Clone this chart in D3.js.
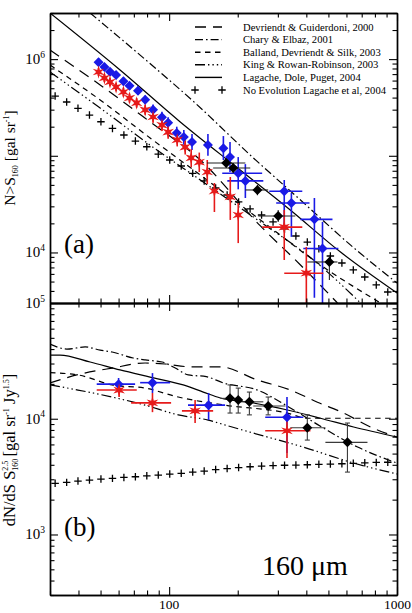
<!DOCTYPE html>
<html>
<head>
<meta charset="utf-8"/>
<title>Number counts at 160 micron</title>
<script src="https://d3js.org/d3.v7.min.js"></script>
<style>
body {margin: 0; background: #fff}
text {font-family: "Liberation Serif", "DejaVu Serif", serif; fill: #000}
</style>
</head>
<body>
<svg id="chart" width="412" height="613"></svg>
<script>

// ---- data (flux in mJy) ----
// no evolution model, same flux grid in both panels
var noEvoFlux = [31.6, 35.5, 39.8, 44.7, 50.2, 56.4, 63.3, 71.1, 79.8, 89.6, 100.6, 113, 126.9, 142.5, 160,
                 179.7, 201.8, 226.6, 254.5, 285.8, 321, 360, 404, 454, 510, 573, 643, 722, 811, 911];
var noEvoCum = [4.15e5, 3.60e5, 3.10e5, 2.64e5, 2.25e5, 1.92e5, 1.64e5, 1.42e5, 1.24e5, 1.04e5, 9.05e4, 7.84e4,
                6.59e4, 5.49e4, 4.64e4, 3.93e4, 3.33e4, 2.82e4, 2.44e4, 2.07e4, 1.75e4, 1.48e4, 1.28e4, 1.09e4,
                9.19e3, 7.78e3, 6.59e3, 5.57e3, 4.61e3, 3.9e3];
var noEvoDiff = [2765, 2820, 2893, 2952, 3011, 3053, 3114, 3152, 3215, 3260, 3327, 3374, 3462, 3532, 3639,
                 3712, 3786, 3847, 3901, 3940, 3963, 3980, 4004, 4036, 4060, 4085, 4117, 4159, 4191, 4207];

// model curves: [flux, value]
var devriendtCum = [[30, 1.24e6], [49.8, 5.4e5], [82.5, 2.24e5], [137, 9.05e4], [251.5, 1.88e4], [377, 7.42e3], [548, 3.0e3]];
var charyCum = [[45, 3.0e6], [74.6, 1.10e6], [130, 3.52e5], [232, 9.7e4], [377, 3.49e4], [626, 1.19e4], [1000, 4.83e3]];
var ballandCum = [[30, 8.69e5], [49.8, 3.78e5], [82.5, 1.53e5], [137, 6.33e4], [251.5, 2.17e4], [461, 7.42e3], [847, 3.0e3]];
var kingCum = [[30, 7.36e5], [49.8, 3.12e5], [82.5, 1.29e5], [137, 5.62e4], [251.5, 2.07e4], [430, 8.36e3], [692, 3.0e3]];
var lagacheCum = [[30, 3.0e6], [60.9, 7.72e5], [111.9, 2.24e5], [205, 7.13e4], [340, 2.75e4], [565, 1.01e4], [1000, 3.81e3]];

var devriendtDiff = [[30, 2.04e4], [40.7, 2.43e4], [56.2, 2.74e4], [78.5, 3.03e4], [96, 2.97e4], [123.8, 2.81e4],
                     [167.8, 2.81e4], [244, 2.16e4], [340.5, 1.77e4], [447.6, 1.39e4], [582.7, 1.12e4], [765.7, 8.48e3], [1000, 6.95e3]];
var charyDiff = [[30, 4.42e4], [35.6, 4.0e4], [42.8, 4.17e4], [49.8, 3.92e4], [56.2, 3.77e4], [69.5, 3.35e4], [78.5, 3.22e4],
                 [93.2, 3.09e4], [106.4, 2.74e4], [121.3, 2.39e4], [145.6, 2.31e4], [172.8, 2.04e4], [244, 1.77e4],
                 [340.5, 1.24e4], [475.5, 8.31e3], [671.6, 5.69e3], [1000, 4.14e3]];
var ballandDiff = [[30, 2.50e4], [39.8, 2.39e4], [56.2, 1.96e4], [78.5, 1.84e4], [109.6, 1.54e4], [176.4, 1.31e4],
                   [330.4, 1.12e4], [404, 1.01e4], [1000, 1.01e4]];
var kingDiff = [[30, 1.96e4], [39.8, 1.77e4], [56.2, 1.54e4], [78.5, 1.31e4], [109.6, 1.08e4], [148.4, 9.74e3],
                [176.4, 8.82e3], [234, 7.52e3], [388, 5.69e3], [645, 4.14e3], [1000, 3.33e3]];
var lagacheDiff = [[30, 3.55e4], [33.2, 3.55e4], [45, 3.09e4], [60.9, 2.64e4], [82.5, 2.29e4], [115.3, 1.96e4],
                   [141.2, 1.70e4], [167.8, 1.51e4], [234, 1.37e4], [330.4, 1.19e4], [461.4, 1.01e4], [645, 8.48e3], [1000, 6.95e3]];

// measurements: [flux, value, low, high, fluxLow, fluxHigh]
var blueCum = [[49, 9.3e5, 8.5e5, 1.02e6], [52, 8.3e5, 7.6e5, 9.1e5], [55, 7.4e5, 6.7e5, 8.1e5], [58.5, 6.85e5, 6.2e5, 7.5e5],
  [63, 5.9e5, 5.35e5, 6.5e5], [67, 5.3e5, 4.8e5, 5.8e5], [73, 4.7e5, 4.25e5, 5.2e5], [78.5, 3.8e5, 3.4e5, 4.2e5],
  [85, 3.0e5, 2.65e5, 3.4e5], [93, 2.5e5, 2.2e5, 2.85e5], [99, 2.2e5, 1.9e5, 2.5e5], [108, 1.72e5, 1.45e5, 2.0e5],
  [116, 1.56e5, 1.3e5, 1.85e5], [126, 1.39e5, 1.15e5, 1.68e5], [148, 1.29e5, 1.0e5, 1.68e5], [173, 1.2e5, 9.05e4, 1.6e5],
  [185, 9.7e4, 6.8e4, 1.39e5], [201, 6.6e4, 4.5e4, 9.7e4, 171, 256], [216, 5.5e4, 3.66e4, 8.2e4, 180, 259],
  [320, 4.3e4, 1.71e4, 5.62e4, 275, 384], [344, 3.25e4, 1.45e4, 4.12e4, 295, 413],
  [434, 2.2e4, 3.4e3, 3.66e4, 377, 521], [471, 1.1e4, 2.0e3, 2.07e4, 388, 553]];
var redCum = [[49, 7.36e5, 6.7e5, 8.1e5], [52, 6.38e5, 5.8e5, 7.0e5], [55, 5.8e5, 5.25e5, 6.4e5], [58.5, 5.15e5, 4.65e5, 5.7e5],
  [63, 4.57e5, 4.1e5, 5.05e5], [67, 3.96e5, 3.55e5, 4.4e5], [72, 3.52e5, 3.15e5, 3.95e5], [78.5, 2.98e5, 2.65e5, 3.35e5],
  [85, 2.52e5, 2.2e5, 2.85e5], [93, 2.08e5, 1.8e5, 2.4e5], [99, 1.76e5, 1.5e5, 2.05e5], [108.5, 1.46e5, 1.25e5, 1.72e5],
  [117.6, 1.23e5, 1.03e5, 1.45e5], [125, 9.5e4, 7.6e4, 1.17e5], [135.6, 8.6e4, 6.8e4, 1.08e5], [147, 6.8e4, 5.1e4, 9.05e4],
  [158, 4.32e4, 2.62e4, 5.23e4], [185.5, 3.75e4, 2.17e4, 6.03e4], [201, 2.44e4, 1.25e4, 3.25e4],
  [320, 1.83e4, 8.36e3, 2.75e4, 256, 384], [400, 6.1e3, 2.0e3, 1.14e4, 320, 475]];
var blackCum = [[178, 8.42e4, 7.5e4, 9.4e4, 146.6, 216], [191, 7.47e4, 6.6e4, 8.4e4, 156, 227],
  [244, 4.43e4, 3.9e4, 5.0e4, 216, 272], [301, 2.38e4, 2.07e4, 2.75e4, 246, 358], [505, 7.97e3, 5.19e3, 9.4e3, 404, 548]];

var blueDiff = [[60, 1.99e4, 1.77e4, 2.25e4, 48.1, 70.9], [84.5, 2.05e4, 1.67e4, 2.48e4, 74.6, 101],
  [149, 1.31e4, 9.74e3, 1.67e4, 121, 176], [329, 1.03e4, 5.05e3, 1.54e4, 264, 388]];
var redDiff = [[60.3, 1.77e4, 1.54e4, 1.96e4, 48.1, 72.1], [84.5, 1.37e4, 1.14e4, 1.67e4, 68.1, 102],
  [130, 1.17e4, 9.18e3, 1.45e4, 113.8, 156], [329, 7.87e3, 4.57e3, 1.12e4, 264, 417]];
var blackDiff = [[185, 1.50e4, 1.12e4, 1.96e4, 168, 205], [201, 1.45e4, 1.12e4, 1.84e4], [225, 1.40e4, 1.08e4, 1.70e4, 205, 259],
  [272, 1.29e4, 1.08e4, 1.54e4, 234, 324], [404, 8.36e3, 6.54e3, 1.08e4, 340, 485], [606, 6.25e3, 3.46e3, 9.18e3, 485, 742]];

var modelNames = ["Devriendt & Guiderdoni, 2000", "Chary & Elbaz, 2001", "Balland, Devriendt & Silk, 2003",
                  "King & Rowan-Robinson, 2003", "Lagache, Dole, Puget, 2004", "No Evolution Lagache et al, 2004"];

// ---- layout ----
var left = 50, right = 397;
var aTop = 13, aBot = 303, bTop = 303, bBot = 595;

var svg = d3.select("#chart");

var x = d3.scaleLog().domain([30, 1000]).range([left, right]);
var yA = d3.scaleLog().domain([3e3, 3e6]).range([aBot, aTop]);
var yB = d3.scaleLog().domain([300, 1e5]).range([bBot, bTop]);

var models = [
  {dash: "11,7", cum: devriendtCum, diff: devriendtDiff},
  {dash: "8,3,1.6,3", cum: charyCum, diff: charyDiff},
  {dash: "5.5,4.5", cum: ballandCum, diff: ballandDiff},
  {dash: "10,3,1.4,3,1.4,3,1.4,3", cum: kingCum, diff: kingDiff},
  {dash: null, cum: lagacheCum, diff: lagacheDiff}
];

var defs = svg.append("defs");
defs.append("clipPath").attr("id", "clipA").append("rect")
  .attr("x", left).attr("y", aTop).attr("width", right - left).attr("height", aBot - aTop);
defs.append("clipPath").attr("id", "clipB").append("rect")
  .attr("x", left).attr("y", bTop).attr("width", right - left).attr("height", bBot - bTop);

// symbol shapes
var plusShape = {draw: function(ctx, size) {
  var r = Math.sqrt(size) / 2;
  ctx.moveTo(-r, 0); ctx.lineTo(r, 0); ctx.moveTo(0, -r); ctx.lineTo(0, r);
}};
var starShape = {draw: function(ctx, size) {
  var r1 = Math.sqrt(size) / 2, r2 = r1 * 0.36;
  for (var i = 0; i < 12; i++) {
    var r = i % 2 ? r2 : r1, a = i * Math.PI / 6;
    if (i == 0) ctx.moveTo(r * Math.sin(a), -r * Math.cos(a));
    else ctx.lineTo(r * Math.sin(a), -r * Math.cos(a));
  }
  ctx.closePath();
}};
var diamond = d3.symbol(d3.symbolSquare, 50);
var star = d3.symbol(starShape, 180);
var plus = d3.symbol(plusShape, 56);

function drawPanel(y, clip, key, noEvo, blue, red, black, capBlack) {
  var g = svg.append("g").attr("clip-path", "url(#" + clip + ")");
  var line = d3.line().x(function(d) { return x(d[0]); }).y(function(d) { return y(d[1]); })
    .curve(d3.curveMonotoneX);

  models.forEach(function(m) {
    g.append("path").attr("d", line(m[key]))
      .attr("fill", "none").attr("stroke", "#000").attr("stroke-width", 1.2)
      .attr("stroke-dasharray", m.dash);
  });

  g.selectAll(".noevo").data(noEvo).enter().append("path")
    .attr("d", plus)
    .attr("transform", function(d, i) { return "translate(" + x(noEvoFlux[i]) + "," + y(d) + ")"; })
    .attr("stroke", "#000").attr("stroke-width", 1.3).attr("fill", "none");

  function errBars(data, color, width, cap) {
    data.forEach(function(d) {
      var cx = x(d[0]), cy = y(d[1]);
      if (d[2] != null) {
        g.append("line").attr("x1", cx).attr("x2", cx).attr("y1", y(d[2])).attr("y2", y(d[3]))
          .attr("stroke", color).attr("stroke-width", width);
        if (cap) {
          [d[2], d[3]].forEach(function(v) {
            g.append("line").attr("x1", cx - 2.5).attr("x2", cx + 2.5).attr("y1", y(v)).attr("y2", y(v))
              .attr("stroke", color).attr("stroke-width", width);
          });
        }
      }
      if (d[4] != null) {
        g.append("line").attr("x1", x(d[4])).attr("x2", x(d[5])).attr("y1", cy).attr("y2", cy)
          .attr("stroke", color).attr("stroke-width", width);
      }
    });
  }
  errBars(blue, "#1a1ae6", 1.6, false);
  errBars(red, "#e61a1a", 1.6, false);
  errBars(black, capBlack ? "#3a3a3a" : "#222", 1.1, capBlack);

  g.selectAll(".blue").data(blue).enter().append("path")
    .attr("d", diamond)
    .attr("transform", function(d) { return "translate(" + x(d[0]) + "," + y(d[1]) + ") rotate(45)"; })
    .attr("fill", "#1a1ae6");
  g.selectAll(".red").data(red).enter().append("path")
    .attr("d", star)
    .attr("transform", function(d) { return "translate(" + x(d[0]) + "," + y(d[1]) + ")"; })
    .attr("fill", "#e61a1a");
  g.selectAll(".black").data(black).enter().append("path")
    .attr("d", diamond)
    .attr("transform", function(d) { return "translate(" + x(d[0]) + "," + y(d[1]) + ") rotate(45)"; })
    .attr("fill", "#000");
}

drawPanel(yA, "clipA", "cum", noEvoCum, blueCum, redCum, blackCum, false);
drawPanel(yB, "clipB", "diff", noEvoDiff, blueDiff, redDiff, blackDiff, true);

// ---- axes, ticks pointing inward ----
function frame(y, top, bot, majors) {
  var xMinor = x.ticks().filter(function(v) { return [100, 1000].indexOf(v) < 0; });
  var yMinor = y.ticks().filter(function(v) { return majors.indexOf(v) < 0; });
  var sets = [
    [d3.axisBottom(x), "translate(0," + bot + ")", xMinor, [100, 1000]],
    [d3.axisTop(x), "translate(0," + top + ")", xMinor, [100, 1000]],
    [d3.axisLeft(y), "translate(" + left + ",0)", yMinor, majors],
    [d3.axisRight(y), "translate(" + right + ",0)", yMinor, majors]
  ];
  sets.forEach(function(s) {
    var gm = svg.append("g").attr("transform", s[1])
      .call(s[0].tickValues(s[2]).tickSize(-4.5).tickSizeOuter(0).tickFormat(""));
    var gM = svg.append("g").attr("transform", s[1])
      .call(s[0].tickValues(s[3]).tickSize(-8).tickSizeOuter(0).tickFormat(""));
    [gm, gM].forEach(function(g) {
      g.selectAll("path").attr("stroke", "#000").attr("stroke-width", 1.4);
      g.selectAll("line").attr("stroke", "#000").attr("stroke-width", 1.1);
    });
  });
}
frame(yA, aTop, aBot, [1e4, 1e5, 1e6]);
frame(yB, bTop, bBot, [1e3, 1e4, 1e5]);

// y tick labels as powers of ten (10^5 at the panel border is drawn once)
function powLabel(yy, exp) {
  var t = svg.append("text").attr("x", 45).attr("y", yy + 5)
    .attr("text-anchor", "end").attr("font-size", 15).text("10");
  t.append("tspan").attr("dy", -6.5).attr("font-size", 9.5).text(exp);
}
powLabel(yA(1e6), "6");
powLabel(yA(1e4), "4");
[[1e3, "3"], [1e4, "4"], [1e5, "5"]].forEach(function(d) { powLabel(yB(d[0]), d[1]); });

// x tick labels
svg.append("text").attr("x", x(100)).attr("y", 609).attr("text-anchor", "middle")
  .attr("font-size", 13.5).text("100");
svg.append("text").attr("x", 411).attr("y", 609).attr("text-anchor", "end")
  .attr("font-size", 13.5).text("1000");

// y axis titles
var ta = svg.append("text").attr("transform", "translate(15,158) rotate(-90)")
  .attr("text-anchor", "middle").attr("font-size", 15.5).text("N>S");
ta.append("tspan").attr("font-size", 8).attr("dy", 3).text("160");
ta.append("tspan").attr("dy", -3).text(" [gal sr");
ta.append("tspan").attr("font-size", 8).attr("dy", -6).text("-1");
ta.append("tspan").attr("dy", 6).text("]");

var tb = svg.append("text").attr("transform", "translate(15,450) rotate(-90)")
  .attr("text-anchor", "middle").attr("font-size", 16.5).text("dN/dS S");
tb.append("tspan").attr("font-size", 8).attr("dy", 3).text("160");
tb.append("tspan").attr("font-size", 8).attr("dx", -12).attr("dy", -10).text("2.5");
tb.append("tspan").attr("dy", 7).text(" [gal sr");
tb.append("tspan").attr("font-size", 8).attr("dy", -6).text("-1");
tb.append("tspan").attr("dy", 6).text(" Jy");
tb.append("tspan").attr("font-size", 8).attr("dy", -6).text("1.5");
tb.append("tspan").attr("dy", 6).text("]");

// panel tags
svg.append("text").attr("x", 64).attr("y", 253).attr("font-size", 27).text("(a)");
svg.append("text").attr("x", 64).attr("y", 536).attr("font-size", 27).text("(b)");
svg.append("text").attr("x", 262).attr("y", 575).attr("font-size", 28).text("160 \u03bcm");

// legend
var leg = svg.append("g");
modelNames.forEach(function(name, i) {
  var ly = 27 + i * 12.6;
  if (i < models.length) {
    leg.append("line").attr("x1", 195).attr("x2", 222).attr("y1", ly).attr("y2", ly)
      .attr("stroke", "#000").attr("stroke-width", 1.4).attr("stroke-dasharray", models[i].dash);
  } else {
    [195, 222].forEach(function(px) {
      leg.append("path").attr("d", plus).attr("transform", "translate(" + px + "," + ly + ")")
        .attr("stroke", "#000").attr("stroke-width", 1.3);
    });
  }
  leg.append("text").attr("x", 243).attr("y", ly + 3.5).attr("font-size", 10.6).text(name);
});

</script>
</body>
</html>
